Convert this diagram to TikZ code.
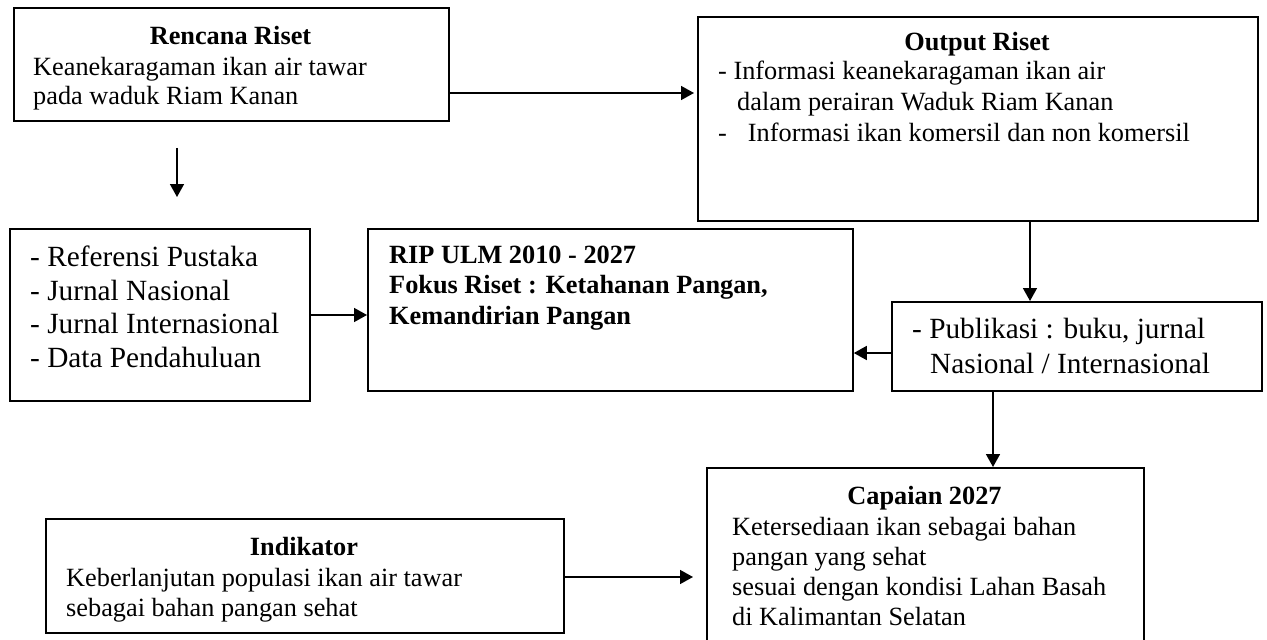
\documentclass[tikz,border=0pt]{standalone}
\usepackage{fontspec}
\setmainfont{Liberation Serif}
\usetikzlibrary{arrows.meta}
\begin{document}
\begin{tikzpicture}[x=1pt,y=-1pt,
  box/.style={draw, line width=1.8pt, inner sep=0pt, anchor=north west},
  arr/.style={line width=1.6pt, -{Triangle[length=13pt,width=14pt]}},
  nt/.style={inner sep=0pt, font=\fontsize{26.3pt}{30pt}\selectfont},
  bt/.style={inner sep=0pt, font=\fontsize{26.3pt}{30pt}\selectfont\bfseries},
  lt/.style={inner sep=0pt, font=\fontsize{29.3pt}{34pt}\selectfont},
]
\fill[white] (0,0) rectangle (1267,640);
\useasboundingbox (0,0) rectangle (1267,640);
\clip (0,0) rectangle (1267,640);

% helper coordinates
\coordinate (y93) at (0,93);
\coordinate (y315) at (0,315);
\coordinate (y353) at (0,353);
\coordinate (y577) at (0,577);
\coordinate (x177) at (177,0);
\coordinate (x1030) at (1030,0);
\coordinate (x993) at (993,0);

% boxes
\node[box, minimum width=435pt, minimum height=113pt] (ren) at (13,7) {};
\node[box, minimum width=560pt, minimum height=204pt] (out) at (697,16) {};
\node[box, minimum width=300pt, minimum height=172pt] (ref) at (9,228) {};
\node[box, minimum width=485pt, minimum height=162pt] (rip) at (367,228) {};
\node[box, minimum width=370pt, minimum height=89pt] (pub) at (891,301) {};
\node[box, minimum width=437pt, minimum height=200pt] (cap) at (706,467) {};
\node[box, minimum width=518pt, minimum height=114pt] (ind) at (45,518) {};

% texts: Rencana Riset
\node[bt, anchor=base] (renT) at (230.5,44) {Rencana Riset};
\node[nt, anchor=base west] (ren1) at (33,75) {Keanekaragaman ikan air tawar};
\node[nt, anchor=base west] (ren2) at (33,104) {pada waduk Riam Kanan};

% Output Riset
\node[bt, anchor=base] (outT) at (977,50) {Output Riset};
\node[nt, anchor=base west] (out1) at (718,79) {- Informasi keanekaragaman ikan air};
\node[nt, anchor=base west] (out2) at (737,110) {dalam perairan Waduk Riam Kanan};
\node[nt, anchor=base west] (out3) at (718,141) {-\hspace{21pt}Informasi ikan komersil dan non komersil};

% Referensi
\node[lt, anchor=base west] (ref1) at (30,266) {- Referensi Pustaka};
\node[lt, anchor=base west] (ref2) at (30,300) {- Jurnal Nasional};
\node[lt, anchor=base west] (ref3) at (30,333) {- Jurnal Internasional};
\node[lt, anchor=base west] (ref4) at (30,367) {- Data Pendahuluan};

% RIP
\node[bt, anchor=base west] (rip1) at (389,263) {RIP ULM 2010 - 2027};
\node[bt, anchor=base west] (rip2) at (389,293) {Fokus Riset : Ketahanan Pangan,};
\node[bt, anchor=base west] (rip3) at (389,324) {Kemandirian Pangan};

% Publikasi
\node[lt, anchor=base west] (pub1) at (912,338) {- Publikasi : buku, jurnal};
\node[lt, anchor=base west] (pub2) at (930,373) {Nasional / Internasional};

% Capaian
\node[bt, anchor=base] (capT) at (924.5,504) {Capaian 2027};
\node[nt, anchor=base west] (cap1) at (732,535) {Ketersediaan ikan sebagai bahan};
\node[nt, anchor=base west] (cap2) at (732,565) {pangan yang sehat};
\node[nt, anchor=base west] (cap3) at (732,595) {sesuai dengan kondisi Lahan Basah};
\node[nt, anchor=base west] (cap4) at (732,625) {di Kalimantan Selatan};

% Indikator
\node[bt, anchor=base] (indT) at (304,555) {Indikator};
\node[nt, anchor=base west] (ind1) at (66,586) {Keberlanjutan populasi ikan air tawar};
\node[nt, anchor=base west] (ind2) at (66,616) {sebagai bahan pangan sehat};

% connectors
\draw[arr, shorten >=3pt] (ren.east |- y93) -- (out.west |- y93);
\draw[arr, shorten <=26pt, shorten >=31pt] (ren.south -| x177) -- (ref.north -| x177);
\draw[arr] (ref.east |- y315) -- (rip.west |- y315);
\draw[arr] (pub.west |- y353) -- (rip.east |- y353);
\draw[arr] (out.south -| x1030) -- (pub.north -| x1030);
\draw[arr] (pub.south -| x993) -- (cap.north -| x993);
\draw[arr, shorten >=13pt] (ind.east |- y577) -- (cap.west |- y577);
\end{tikzpicture}
\end{document}
